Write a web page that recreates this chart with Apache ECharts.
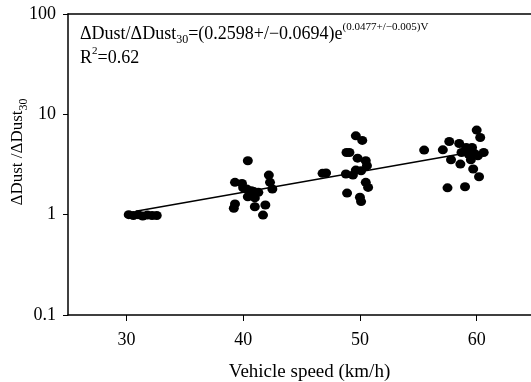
<!DOCTYPE html>
<html>
<head>
<meta charset="utf-8">
<script src="https://cdn.jsdelivr.net/npm/echarts@6/dist/echarts.min.js"></script>
<style>
  html, body { margin: 0; padding: 0; background: #fff; }
  #chart { width: 531px; height: 382px; }
</style>
</head>
<body>
<div id="chart"></div>
<script>
// measured points (vehicle speed, km/h) and dust ratio
const speed = [
  30.2, 30.6, 31.0, 31.4, 31.8, 32.2, 32.6,
  40.4, 39.3, 39.9, 42.2, 42.3, 42.5, 40.3, 40.7, 41.3, 40.4, 41.0, 39.3, 39.2, 41.0, 41.9, 41.7, 40.0, 40.9,
  49.65, 50.2, 48.85, 49.1, 49.8, 50.5, 50.6, 47.1, 46.8, 48.8, 49.4, 49.65, 50.1, 50.5, 50.7, 48.9, 50.0, 50.1,
  55.5, 57.1, 57.65, 58.5, 60.0, 60.3, 60.6, 59.6, 59.1, 58.7, 59.3, 59.8, 57.8, 58.6, 59.5, 59.7, 60.2, 57.5, 59.0, 60.1
];
const dustRatio = [
  1.0, 0.98, 1.0, 0.97, 0.99, 0.98, 0.98,
  3.45, 2.10, 2.05, 2.48, 2.10, 1.80, 1.80, 1.73, 1.67, 1.51, 1.47, 1.28, 1.16, 1.20, 1.25, 0.99, 1.85, 1.70,
  6.1, 5.5, 4.17, 4.17, 3.66, 3.45, 3.07, 2.60, 2.58, 2.54, 2.48, 2.78, 2.74, 2.10, 1.87, 1.64, 1.49, 1.35,
  4.40, 4.43, 5.36, 5.12, 6.97, 5.88, 4.17, 4.67, 4.67, 4.17, 4.02, 4.08, 3.53, 3.19, 3.53, 2.85, 2.39, 1.85, 1.90, 3.87
];

// ends of the fitted line
const fitSpeed = [30.8, 58.5];
const fitRatio = [1.08, 4.0];

const xTicks = [30, 40, 50, 60];

const font = "Liberation Serif";
const chart = echarts.init(document.getElementById("chart"));

const option = {
  animation: false,
  grid: { left: 68, top: 14, bottom: 67, right: 0, outerBoundsMode: "none" },
  xAxis: [
    {
      type: "value",
      min: 25,
      max: 64.65, // plot is cut at the right edge
      splitLine: { show: false },
      axisLine: { lineStyle: { color: "#000", width: 1.5 } },
      axisTick: { customValues: xTicks, length: 6, lineStyle: { color: "#000" } },
      axisLabel: {
        customValues: xTicks, margin: 16,
        color: "#000", fontFamily: font, fontSize: 18
      },
      name: "Vehicle speed (km/h)",
      nameLocation: "middle",
      nameGap: 48,
      nameTextStyle: { color: "#000", fontFamily: font, fontSize: 19, padding: [0, 0, 0, 20] }
    },
    {
      // top frame line only
      type: "value",
      position: "top",
      min: 25,
      max: 64.65,
      splitLine: { show: false },
      axisLine: { lineStyle: { color: "#000", width: 1.5 } },
      axisTick: { show: false },
      axisLabel: { show: false }
    }
  ],
  yAxis: {
    type: "log",
    logBase: 10,
    min: 0.1,
    max: 100,
    splitLine: { show: false },
    axisLine: { lineStyle: { color: "#000", width: 1.5 } },
    axisTick: { length: 5, lineStyle: { color: "#000" } },
    minorTick: { show: false },
    axisLabel: { margin: 12, color: "#000", fontFamily: font, fontSize: 18 }
  },
  graphic: [
    {
      type: "text",
      x: 18, y: 152,
      rotation: Math.PI / 2,
      style: {
        text: "{m|ΔDust /ΔDust}{s|30}",
        align: "center",
        verticalAlign: "middle",
        fill: "#000",
        rich: {
          m: { fontFamily: font, fontSize: 17, lineHeight: 24 },
          s: { fontFamily: font, fontSize: 12, lineHeight: 12, verticalAlign: "bottom" }
        }
      }
    },
    {
      type: "text",
      left: 80, top: 22,
      style: {
        text: "{m|ΔDust/ΔDust}{s|30}{m|=(0.2598+/−0.0694)e}{p|(0.0477+/−0.005)V}\n{m|R}{p|2}{m|=0.62}",
        fill: "#000",
        rich: {
          m: { fontFamily: font, fontSize: 18, lineHeight: 24 },
          s: { fontFamily: font, fontSize: 12, lineHeight: 12, verticalAlign: "bottom" },
          p: { fontFamily: font, fontSize: 11, lineHeight: 11, verticalAlign: "top" }
        }
      }
    }
  ],
  series: [
    {
      type: "scatter",
      data: speed.map((v, i) => [v, dustRatio[i]]),
      symbol: "circle",
      symbolSize: [10, 9],
      itemStyle: { color: "#000", opacity: 1 },
      z: 3
    },
    {
      type: "line",
      data: fitSpeed.map((v, i) => [v, fitRatio[i]]),
      symbol: "none",
      lineStyle: { color: "#000", width: 1.5 },
      z: 2
    }
  ]
};

chart.setOption(option);
</script>
</body>
</html>
